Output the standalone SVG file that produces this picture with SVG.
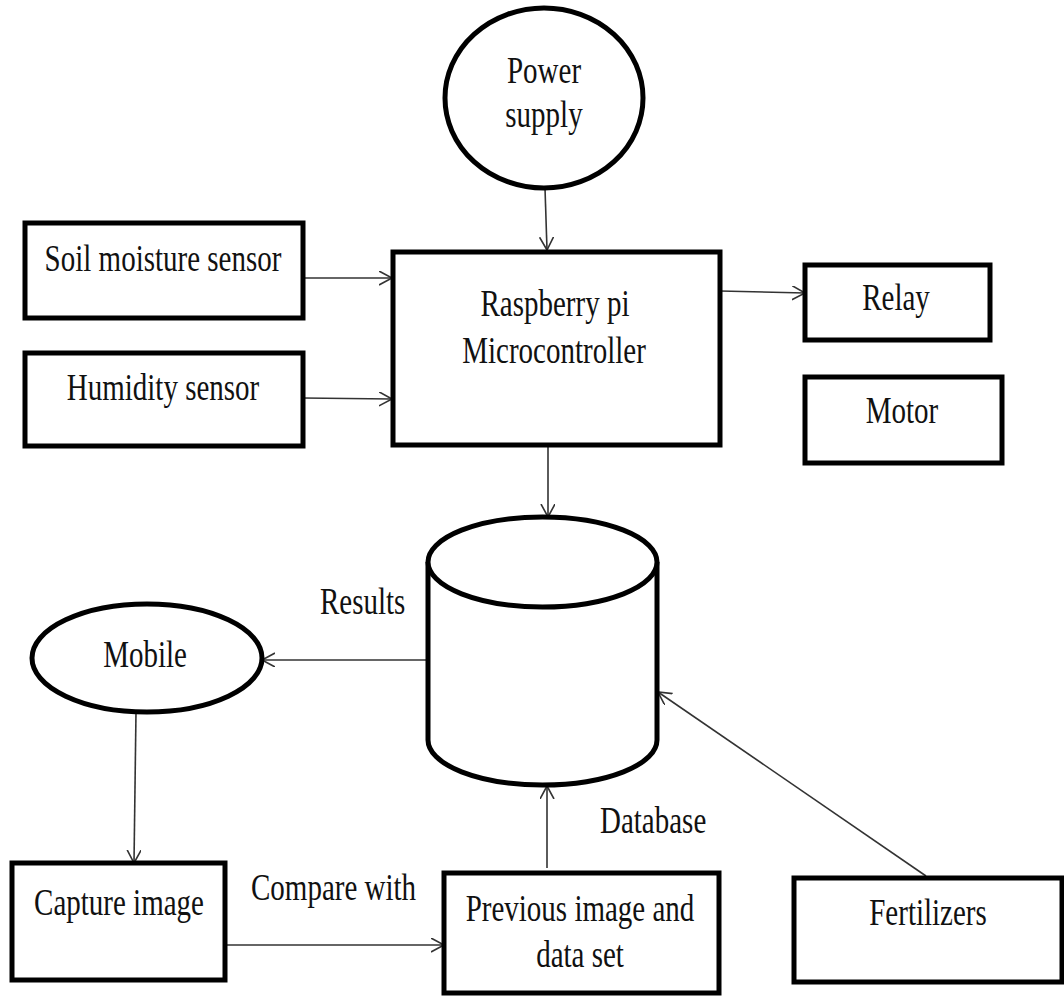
<svg xmlns="http://www.w3.org/2000/svg" width="1064" height="996" viewBox="0 0 1064 996">
<style>
.box{fill:#fff;stroke:#000;stroke-width:5}
.t{font-family:"Liberation Serif","Times New Roman",serif;font-size:29px;fill:#111;text-anchor:middle}
.ts{font-family:"Liberation Serif","Times New Roman",serif;font-size:29px;fill:#111}
.c{fill:none;stroke:#333;stroke-width:1.6}
</style>
<defs>
<marker id="arr" markerUnits="userSpaceOnUse" markerWidth="16" markerHeight="16" refX="13" refY="7" orient="auto">
<path d="M0,0 L13,7 L0,14" fill="none" stroke="#333" stroke-width="1.6"/>
</marker>
</defs>
<rect width="1064" height="996" fill="#fff"/>

<g id="connectors">
<line class="c" x1="545" y1="188" x2="547" y2="250" marker-end="url(#arr)"/>
<line class="c" x1="303" y1="278" x2="392" y2="278" marker-end="url(#arr)"/>
<line class="c" x1="303" y1="398" x2="392" y2="399" marker-end="url(#arr)"/>
<line class="c" x1="720" y1="291" x2="805" y2="293" marker-end="url(#arr)"/>
<line class="c" x1="548" y1="447" x2="548" y2="517" marker-end="url(#arr)"/>
<line class="c" x1="428" y1="660" x2="262" y2="660" marker-end="url(#arr)"/>
<line class="c" x1="136" y1="712" x2="134" y2="863" marker-end="url(#arr)"/>
<line class="c" x1="225" y1="945" x2="444" y2="945" marker-end="url(#arr)"/>
<line class="c" x1="547" y1="868" x2="547" y2="786" marker-end="url(#arr)"/>
<line class="c" x1="926" y1="876" x2="658" y2="692" marker-end="url(#arr)"/>
<text class="ts" transform="translate(320,614) scale(1,1.3)">Results</text>
<text class="ts" transform="translate(251,900) scale(1,1.3)">Compare with</text>
<text class="ts" transform="translate(600,833) scale(1,1.3)">Database</text>
</g>

<g id="power">
<ellipse class="box" cx="544" cy="98" rx="99" ry="90"/>
<text class="t" transform="translate(544,83) scale(1,1.3)">Power</text>
<text class="t" transform="translate(544,127) scale(1,1.3)">supply</text>
</g>

<g id="soil">
<rect class="box" x="25" y="223" width="278" height="95"/>
<text class="t" transform="translate(163,271) scale(1,1.3)">Soil moisture sensor</text>
</g>

<g id="humidity">
<rect class="box" x="25" y="353" width="278" height="93"/>
<text class="t" transform="translate(163,400) scale(1,1.3)">Humidity sensor</text>
</g>

<g id="raspberry">
<rect class="box" x="393" y="252" width="327" height="193"/>
<text class="t" transform="translate(555,316) scale(1,1.3)">Raspberry pi</text>
<text class="t" transform="translate(554,363) scale(1,1.3)">Microcontroller</text>
</g>

<g id="relay">
<rect class="box" x="805" y="265" width="185" height="75"/>
<text class="t" transform="translate(896,310) scale(1,1.3)">Relay</text>
</g>

<g id="motor">
<rect class="box" x="805" y="377" width="197" height="86"/>
<text class="t" transform="translate(902,423) scale(1,1.3)">Motor</text>
</g>

<g id="database">
<path class="box" d="M428,562 L428,740 A114.5,45 0 0 0 657,740 L657,562"/>
<ellipse class="box" cx="542.5" cy="562" rx="114.5" ry="45"/>
</g>

<g id="mobile">
<ellipse class="box" cx="147" cy="658" rx="115" ry="54"/>
<text class="t" transform="translate(145,667) scale(1,1.3)">Mobile</text>
</g>

<g id="capture">
<rect class="box" x="12" y="863" width="213" height="117"/>
<text class="t" transform="translate(119,915) scale(1,1.3)">Capture image</text>
</g>

<g id="previous">
<rect class="box" x="444" y="873" width="275" height="120"/>
<text class="t" transform="translate(580,921) scale(1,1.3)">Previous image and</text>
<text class="t" transform="translate(580,967) scale(1,1.3)">data set</text>
</g>

<g id="fertilizers">
<rect class="box" x="794" y="878" width="268" height="104"/>
<text class="t" transform="translate(928,925) scale(1,1.3)">Fertilizers</text>
</g>
</svg>
